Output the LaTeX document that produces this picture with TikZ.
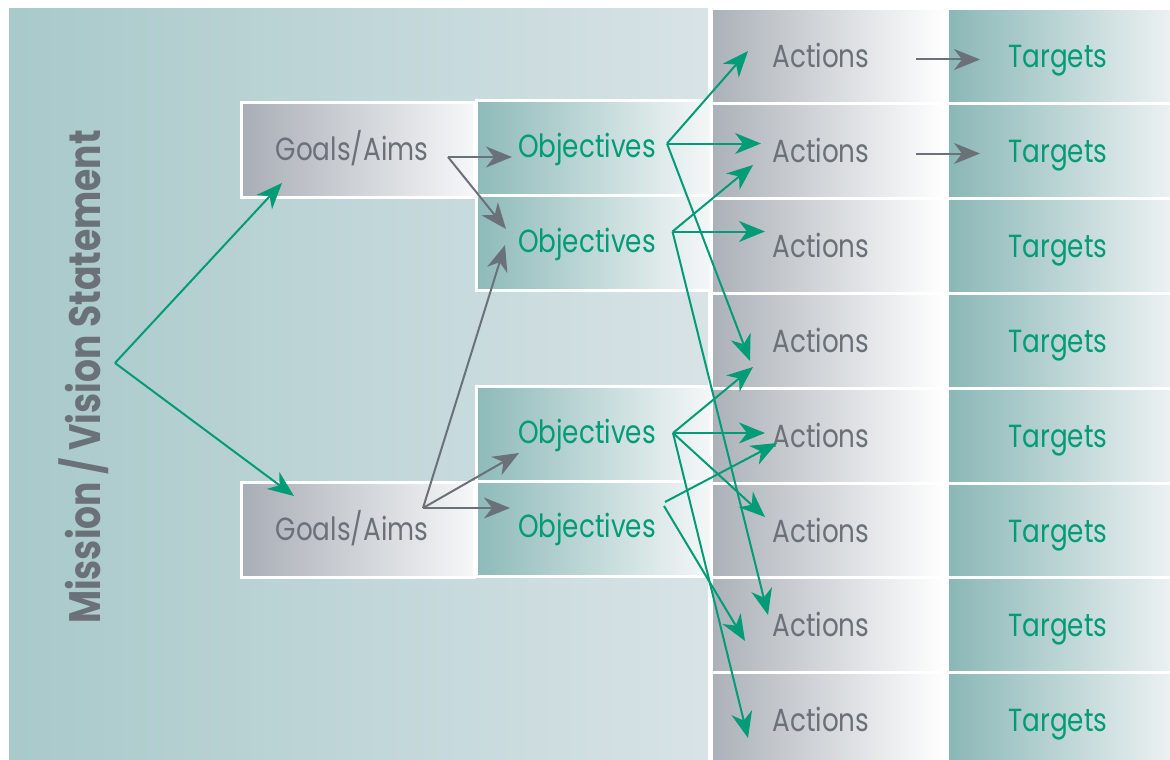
\documentclass[tikz,border=0pt]{standalone}
\usepackage{fontspec}
\setmainfont{Poppins}[FakeStretch=0.82]
\usetikzlibrary{arrows.meta}

\definecolor{grn}{HTML}{009B77}
\definecolor{gry}{HTML}{6B7179}
\definecolor{panelL}{HTML}{A8C9CA}
\definecolor{panelR}{HTML}{D8E3E6}
\definecolor{goalL}{HTML}{A9AEB6}
\definecolor{goalR}{HTML}{F6F7F8}
\definecolor{objL}{HTML}{8DBAB9}
\definecolor{objR}{HTML}{F5F7F8}
\definecolor{actL}{HTML}{ABB1B8}
\definecolor{tgtL}{HTML}{89B7B6}
\definecolor{tgtR}{HTML}{EEF2F3}

\tikzset{
  boxbase/.style={draw=white, line width=3pt, inner sep=0pt, rectangle},
  goalbox/.style={boxbase, left color=goalL, right color=goalR,
                  minimum width=233pt, minimum height=95pt},
  objbox/.style={boxbase, left color=objL, right color=objR,
                 minimum width=235pt, minimum height=95pt},
  actbox/.style={boxbase, left color=actL, right color=white,
                 minimum width=234pt, minimum height=95pt},
  tgtbox/.style={boxbase, left color=tgtL, right color=tgtR,
                 minimum width=228pt, minimum height=95pt},
  graylabel/.style={anchor=base, inner sep=0pt, text=gry,
                    font=\fontsize{32}{38}\selectfont},
  greenlabel/.style={anchor=base, inner sep=0pt, text=grn,
                     font=\fontsize{32}{38}\selectfont},
  tipshape/.style={-{Stealth[length=26pt,width=21pt,inset=8pt]}},
  garrow/.style={draw=grn, line width=2pt, tipshape},
  yarrow/.style={draw=gry, line width=2pt, tipshape},
}

\begin{document}
\begin{tikzpicture}[x=1pt,y=-1pt]
  \useasboundingbox (0,0) rectangle (1170,760);
  \fill[white] (0,0) rectangle (1170,760);

  % large background panel
  \shade[left color=panelL, right color=panelR] (9,9) rectangle (708,768);

  % mission statement, vertical
  \node[rotate=90, anchor=base, inner sep=0pt, text=gry,
        font=\bfseries\fontsize{44}{52}\selectfont] (mission) at (100,377)
        {Mission / Vision Statement};

  % goals
  \node[goalbox] (goal1) at (358,149.75) {};
  \node[goalbox] (goal2) at (358,529.5) {};
  \node[graylabel] (goal1t) at (352,160) {Goals/Aims};
  \node[graylabel] (goal2t) at (352,540) {Goals/Aims};

  % objectives
  \node[objbox] (obj1) at (593.5,147.75) {};
  \node[objbox] (obj2) at (593.5,242.75) {};
  \node[objbox] (obj3) at (593.5,433.5) {};
  \node[objbox] (obj4) at (593.5,528.5) {};
  \node[greenlabel] (obj1t) at (587,157) {Objectives};
  \node[greenlabel] (obj2t) at (587,252) {Objectives};
  \node[greenlabel] (obj3t) at (587,443) {Objectives};
  \node[greenlabel] (obj4t) at (587,537) {Objectives};

  % actions and targets, eight rows
  \foreach \i in {0,...,7} {
    \pgfmathsetmacro{\yc}{56+94.9*\i}
    \pgfmathsetmacro{\yb}{67.5+94.9*\i}
    \node[actbox] (act\i) at (828,\yc) {};
    \node[tgtbox] (tgt\i) at (1061,\yc) {};
    \node[graylabel] (act\i t) at (821,\yb) {Actions};
    \node[greenlabel] (tgt\i t) at (1058,\yb) {Targets};
  }

  % connector end points
  \coordinate (ms) at (115,363);
  \coordinate (g1in) at (282,183);
  \coordinate (g2in) at (294,496);

  \coordinate (g1out) at (448,157);
  \coordinate (g2out) at (423,508);
  \coordinate (o1a) at (512,157);
  \coordinate (o2a) at (506,229);
  \coordinate (o4a) at (510,508);
  \coordinate (o3a) at (519,453);
  \coordinate (o2b) at (505,245);

  \coordinate (o1out) at (667,143.5);
  \coordinate (o2out) at (672.5,231.5);
  \coordinate (o3out) at (673,433);
  \coordinate (o4outa) at (665,502);
  \coordinate (o4outb) at (664,506);

  \coordinate (a0in) at (748,51);
  \coordinate (a1in) at (761,143.5);
  \coordinate (a3in) at (750,361);
  \coordinate (a1inb) at (753,165);
  \coordinate (a2in) at (765,231.5);
  \coordinate (a6in) at (768,615);
  \coordinate (a3inb) at (753,367);
  \coordinate (a4in) at (765,433);
  \coordinate (a5in) at (765,517);
  \coordinate (a7in) at (748,738);
  \coordinate (a4inb) at (777,443);
  \coordinate (a6inb) at (745,641);

  \coordinate (a0out) at (916,59.5);
  \coordinate (a1out) at (916,153.5);
  \coordinate (t0in) at (980,59.5);
  \coordinate (t1in) at (980,153.5);

  % mission to goals
  \draw[garrow] (ms) -- (g1in);
  \draw[garrow] (ms) -- (g2in);

  % goals to objectives
  \draw[yarrow] (g1out) -- (o1a);
  \draw[yarrow] (g1out) -- (o2a);
  \draw[yarrow] (g2out) -- (o4a);
  \draw[yarrow] (g2out) -- (o3a);
  \draw[yarrow] (g2out) -- (o2b);

  % objectives to actions
  \draw[garrow] (o1out) -- (a0in);
  \draw[garrow] (o1out) -- (a1in);
  \draw[garrow] (o1out) -- (a3in);
  \draw[garrow] (o2out) -- (a1inb);
  \draw[garrow] (o2out) -- (a2in);
  \draw[garrow] (o2out) -- (a6in);
  \draw[garrow] (o3out) -- (a3inb);
  \draw[garrow] (o3out) -- (a4in);
  \draw[garrow] (o3out) -- (a5in);
  \draw[garrow] (o3out) -- (a7in);
  \draw[garrow] (o4outa) -- (a4inb);
  \draw[garrow] (o4outb) -- (a6inb);

  % actions to targets
  \draw[yarrow] (a0out) -- (t0in);
  \draw[yarrow] (a1out) -- (t1in);
\end{tikzpicture}
\end{document}
